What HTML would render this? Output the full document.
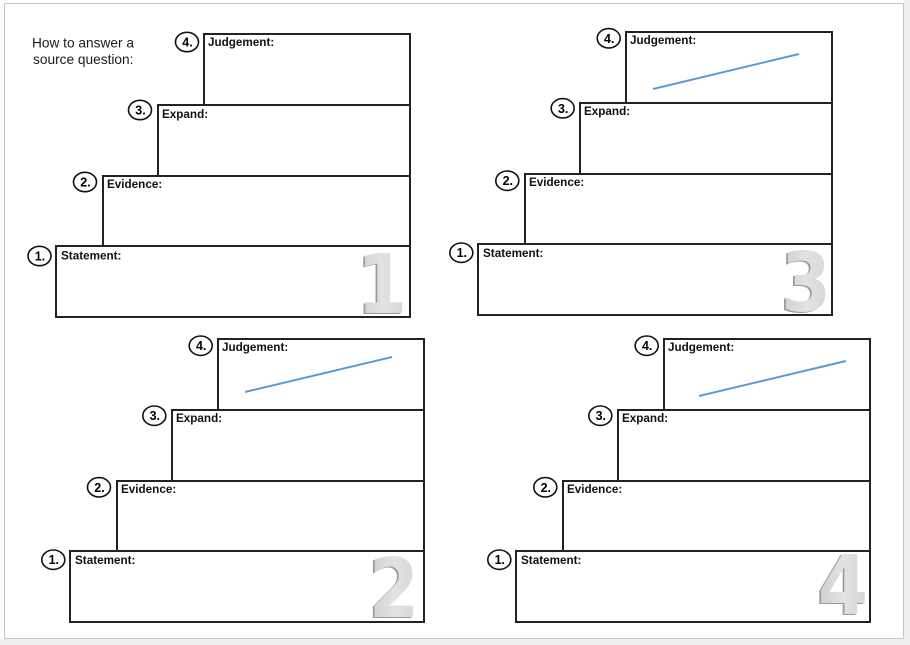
<!DOCTYPE html>
<html>
<head>
<meta charset="utf-8">
<style>
html,body{margin:0;padding:0;background:#fff;}
body{width:910px;height:645px;overflow:hidden;position:relative;}
svg{position:absolute;left:0;top:0;}
.lbl{font-family:"Liberation Sans",Arial,sans-serif;font-weight:bold;font-size:11.7px;fill:#111;}
.num{font-family:"Liberation Sans",Arial,sans-serif;font-weight:bold;font-size:12.5px;fill:#000;}
.intro{font-family:"Liberation Sans",Arial,sans-serif;font-size:13.7px;fill:#1a1a1a;}
.big{font-family:"DejaVu Sans","Liberation Sans",sans-serif;font-weight:bold;font-size:82px;}
</style>
</head>
<body>
<svg width="910" height="645" viewBox="0 0 910 645" xmlns="http://www.w3.org/2000/svg">
  <defs>
    <linearGradient id="dg" x1="0" y1="0" x2="1" y2="0">
      <stop offset="0" stop-color="#cfcfcf"/>
      <stop offset="0.5" stop-color="#e2e2e2"/>
      <stop offset="1" stop-color="#d6d6d6"/>
    </linearGradient>
  </defs>
  <!-- outer background -->
  <rect x="0" y="0" width="910" height="645" fill="#ffffff"/>
  <rect x="904" y="0" width="6" height="645" fill="#efefef"/>
  <rect x="0" y="639" width="910" height="6" fill="#efefef"/>
  <rect x="4.5" y="3.5" width="899" height="635" fill="#ffffff" stroke="#c6c6c6" stroke-width="1"/>

  <!-- intro text -->
  <text class="intro" x="32" y="47.5">How to answer a</text>
  <text class="intro" x="33" y="64">source question:</text>

  <g fill="none" stroke="#222" stroke-width="2">
    <!-- D1 -->
    <rect x="204" y="34" width="206" height="71"/>
    <rect x="158" y="105" width="252" height="71"/>
    <rect x="103" y="176" width="307" height="70"/>
    <rect x="56" y="246" width="354" height="71"/>
    <!-- D3 -->
    <rect x="626" y="32" width="206" height="71"/>
    <rect x="580" y="103" width="252" height="71"/>
    <rect x="525" y="174" width="307" height="70"/>
    <rect x="478" y="244" width="354" height="71"/>
    <!-- D2 -->
    <rect x="218" y="339" width="206" height="71"/>
    <rect x="172" y="410" width="252" height="71"/>
    <rect x="117" y="481" width="307" height="70"/>
    <rect x="70" y="551" width="354" height="71"/>
    <!-- D4 -->
    <rect x="664" y="339" width="206" height="71"/>
    <rect x="618" y="410" width="252" height="71"/>
    <rect x="563" y="481" width="307" height="70"/>
    <rect x="516" y="551" width="354" height="71"/>
  </g>

  <!-- blue lines -->
  <g stroke="#5b9bd5" stroke-width="2" fill="none">
    <line x1="653" y1="89" x2="799" y2="54"/>
    <line x1="245" y1="392" x2="392" y2="357"/>
    <line x1="699" y1="396" x2="846" y2="361"/>
  </g>

  <!-- circles -->
  <g fill="#fff" stroke="#111" stroke-width="1.6">
    <ellipse cx="187" cy="42" rx="11.5" ry="9.7"/>
    <ellipse cx="140" cy="110" rx="11.5" ry="9.7"/>
    <ellipse cx="85" cy="182" rx="11.5" ry="9.7"/>
    <ellipse cx="39.5" cy="256" rx="11.5" ry="9.7"/>

    <ellipse cx="608.7" cy="38.3" rx="11.5" ry="9.7"/>
    <ellipse cx="562.7" cy="108.3" rx="11.5" ry="9.7"/>
    <ellipse cx="507.3" cy="180.7" rx="11.5" ry="9.7"/>
    <ellipse cx="461.3" cy="252.7" rx="11.5" ry="9.7"/>

    <ellipse cx="200.7" cy="345.7" rx="11.5" ry="9.7"/>
    <ellipse cx="154.3" cy="415.7" rx="11.5" ry="9.7"/>
    <ellipse cx="99" cy="487.3" rx="11.5" ry="9.7"/>
    <ellipse cx="53.3" cy="559.7" rx="11.5" ry="9.7"/>

    <ellipse cx="646.7" cy="345.7" rx="11.5" ry="9.7"/>
    <ellipse cx="600.3" cy="415.7" rx="11.5" ry="9.7"/>
    <ellipse cx="545.3" cy="487.3" rx="11.5" ry="9.7"/>
    <ellipse cx="499.3" cy="559.7" rx="11.5" ry="9.7"/>
  </g>
  <g class="num" text-anchor="middle">
    <text x="187.5" y="46.5">4.</text>
    <text x="140.5" y="114.5">3.</text>
    <text x="85.5" y="186.5">2.</text>
    <text x="40" y="260.5">1.</text>

    <text x="609.2" y="42.8">4.</text>
    <text x="563.2" y="112.8">3.</text>
    <text x="507.8" y="185.2">2.</text>
    <text x="461.8" y="257.2">1.</text>

    <text x="201.2" y="350.2">4.</text>
    <text x="154.8" y="420.2">3.</text>
    <text x="99.5" y="491.8">2.</text>
    <text x="53.8" y="564.2">1.</text>

    <text x="647.2" y="350.2">4.</text>
    <text x="600.8" y="420.2">3.</text>
    <text x="545.8" y="491.8">2.</text>
    <text x="499.8" y="564.2">1.</text>
  </g>

  <!-- labels -->
  <g class="lbl">
    <text x="208" y="46">Judgement:</text>
    <text x="162" y="118">Expand:</text>
    <text x="107" y="188">Evidence:</text>
    <text x="61" y="259.5">Statement:</text>

    <text x="630" y="44">Judgement:</text>
    <text x="584" y="115">Expand:</text>
    <text x="529" y="186">Evidence:</text>
    <text x="483" y="257">Statement:</text>

    <text x="222" y="351">Judgement:</text>
    <text x="176" y="422">Expand:</text>
    <text x="121" y="493">Evidence:</text>
    <text x="75" y="564">Statement:</text>

    <text x="668" y="351">Judgement:</text>
    <text x="622" y="422">Expand:</text>
    <text x="567" y="493">Evidence:</text>
    <text x="521" y="564">Statement:</text>
  </g>

  <!-- big embossed digits -->
  <g class="big" text-anchor="middle">
    <g transform="translate(382,0) scale(0.88,1)">
      <text x="-2" y="314" fill="#9a9a9a">1</text>
      <text x="0" y="313" fill="url(#dg)">1</text>
    </g>
    <g transform="translate(806,0) scale(0.88,1)">
      <text x="-2" y="312" fill="#9a9a9a">3</text>
      <text x="0" y="311" fill="url(#dg)">3</text>
    </g>
    <g transform="translate(394,0) scale(0.88,1)">
      <text x="-2" y="618" fill="#9a9a9a">2</text>
      <text x="0" y="617" fill="url(#dg)">2</text>
    </g>
    <g transform="translate(843,0) scale(0.88,1)">
      <text x="-2" y="615" fill="#9a9a9a">4</text>
      <text x="0" y="614" fill="url(#dg)">4</text>
    </g>
  </g>
</svg>
</body>
</html>
